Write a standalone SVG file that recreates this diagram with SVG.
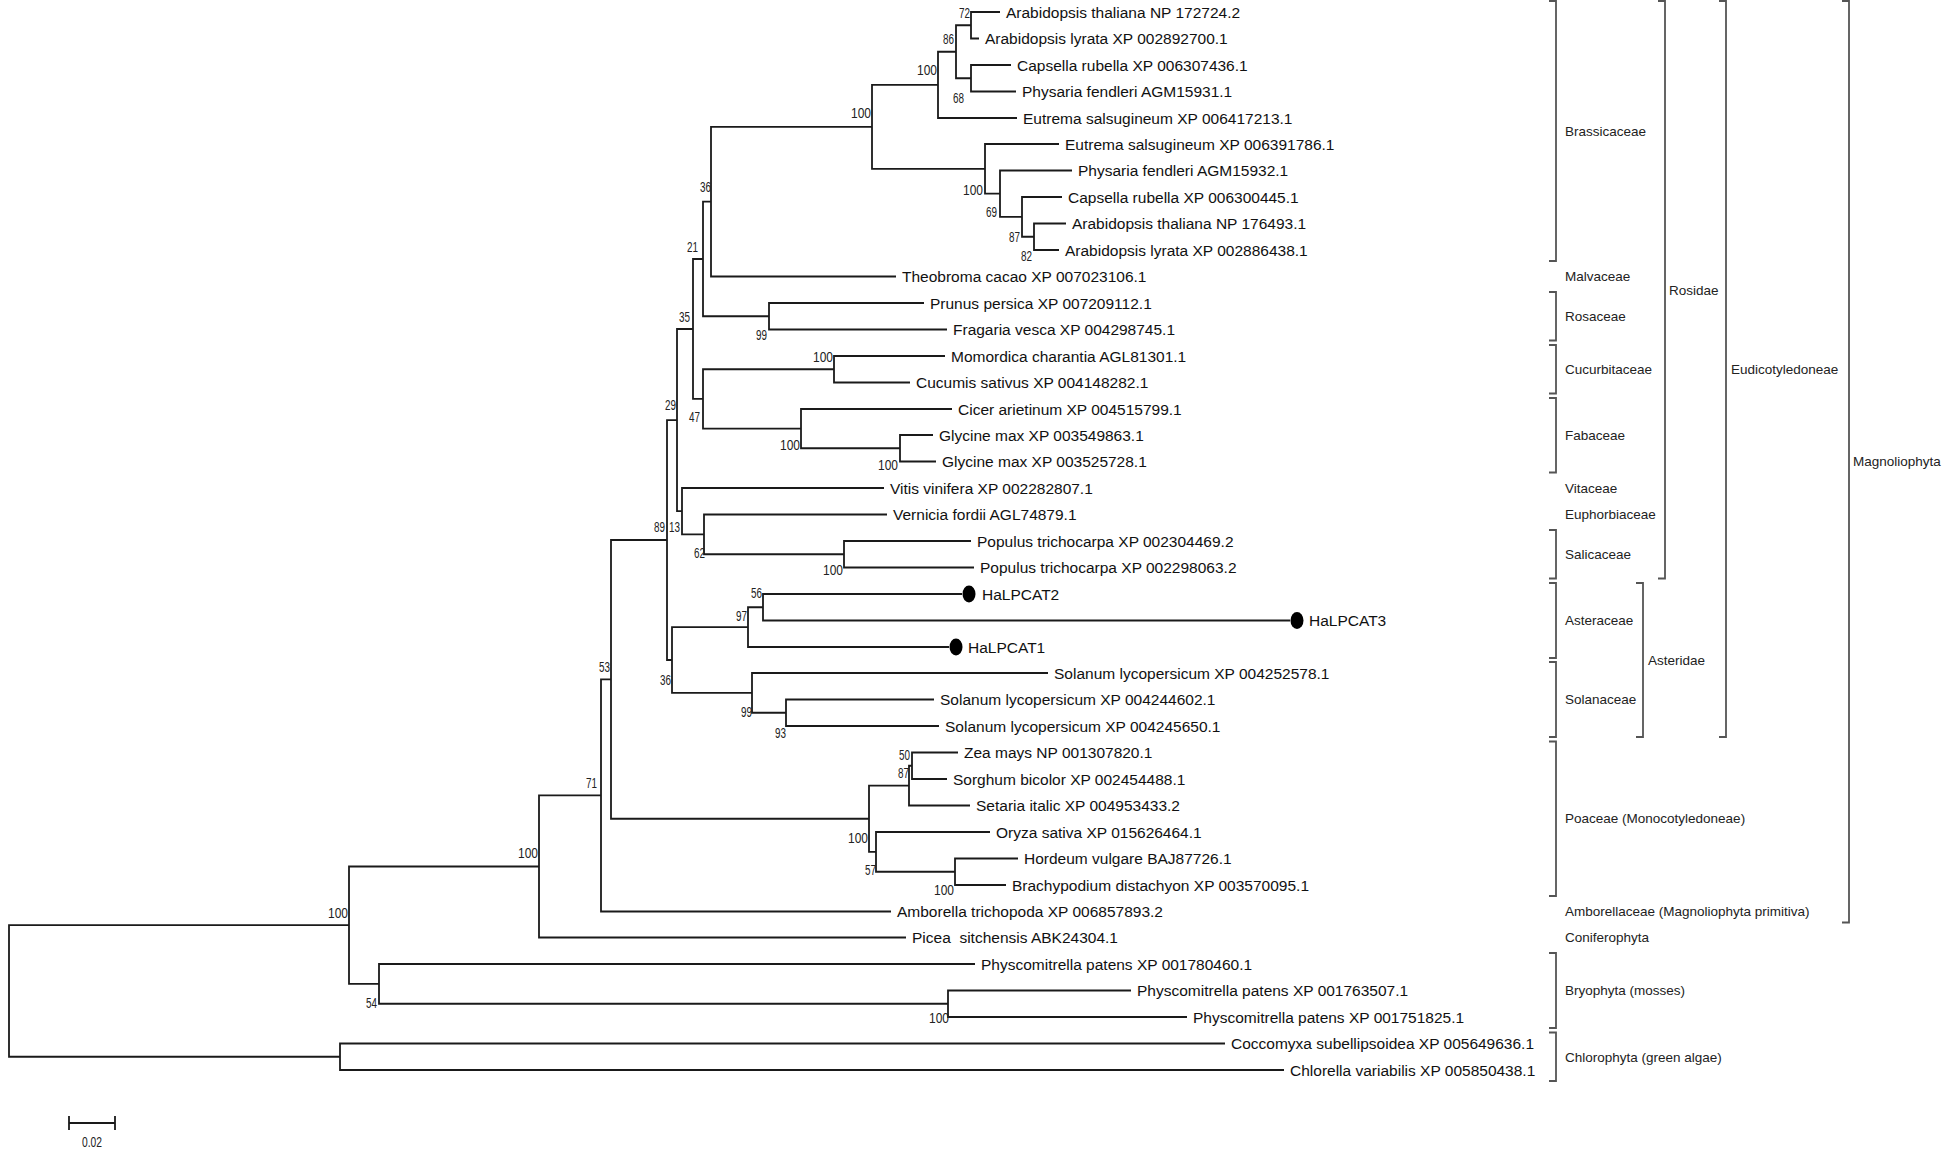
<svg xmlns="http://www.w3.org/2000/svg" width="1951" height="1154" viewBox="0 0 1951 1154">
<style>
.sp{font-family:"Liberation Sans",Arial,sans-serif;font-size:15.5px;fill:#111}
.bs{font-family:"Liberation Sans",Arial,sans-serif;font-size:14px;fill:#222;text-anchor:end}
.cl{font-family:"Liberation Sans",Arial,sans-serif;font-size:13.5px;fill:#222}
.br{fill:none;stroke:#555;stroke-width:1.8}
.ed{fill:none;stroke:#1a1a1a;stroke-width:1.8}
.dot{fill:#000}
</style>
<rect width="1951" height="1154" fill="#fff"/>
<g id="connectors">
<path class="ed" d="M1000 12 H971 V38.5 H979"/>
<path class="ed" d="M1011 65 H971 V91.5 H1016"/>
<path class="ed" d="M971 25.25 H956 V78.25 H971"/>
<path class="ed" d="M956 51.75 H938 V118 H1017"/>
<path class="ed" d="M1066 223.5 H1034 V250 H1059"/>
<path class="ed" d="M1062 197 H1022 V236.75 H1034"/>
<path class="ed" d="M1072 170.5 H1000 V216.9 H1022"/>
<path class="ed" d="M1059 144 H985 V193.7 H1000"/>
<path class="ed" d="M938 84.9 H872 V168.85 H985"/>
<path class="ed" d="M872 126.9 H711 V276.5 H896"/>
<path class="ed" d="M924 303 H769 V329.5 H947"/>
<path class="ed" d="M711 201.7 H703 V316.25 H769"/>
<path class="ed" d="M945 356 H834 V382.5 H910"/>
<path class="ed" d="M933 435 H900 V461.5 H936"/>
<path class="ed" d="M952 409 H801 V448.25 H900"/>
<path class="ed" d="M834 369.25 H703 V428.6 H801"/>
<path class="ed" d="M703 259 H693 V398.9 H703"/>
<path class="ed" d="M971 541 H844 V567.5 H974"/>
<path class="ed" d="M887 514.5 H704 V554.25 H844"/>
<path class="ed" d="M884 488 H682 V534.4 H704"/>
<path class="ed" d="M693 329 H677 V511.2 H682"/>
<path class="ed" d="M962 594 H763 V620.5 H1290"/>
<path class="ed" d="M763 607.25 H748 V647 H949"/>
<path class="ed" d="M934 699.5 H786 V726 H939"/>
<path class="ed" d="M1048 673 H752 V712.75 H786"/>
<path class="ed" d="M748 627.1 H672 V692.9 H752"/>
<path class="ed" d="M677 420.1 H667 V660 H672"/>
<path class="ed" d="M958 752.5 H912 V779 H947"/>
<path class="ed" d="M912 765.75 H909 V805.5 H970"/>
<path class="ed" d="M1018 858.5 H955 V885 H1006"/>
<path class="ed" d="M990 832 H876 V871.75 H955"/>
<path class="ed" d="M909 785.6 H869 V851.9 H876"/>
<path class="ed" d="M667 540 H611 V818.75 H869"/>
<path class="ed" d="M611 679.4 H601 V911.5 H891"/>
<path class="ed" d="M601 795.45 H539 V937.5 H906"/>
<path class="ed" d="M1131 990.5 H948 V1017 H1187"/>
<path class="ed" d="M975 964 H379 V1003.75 H948"/>
<path class="ed" d="M539 866.5 H349 V983.9 H379"/>
<path class="ed" d="M1225 1043.5 H340 V1070 H1284"/>
<path class="ed" d="M349 925.2 H9 V1056.75 H340"/>
</g>
<g id="bootstrap">
<text class="bs" x="970" y="18" textLength="11" lengthAdjust="spacingAndGlyphs">72</text>
<text class="bs" x="954" y="44" textLength="11" lengthAdjust="spacingAndGlyphs">86</text>
<text class="bs" x="937" y="75" textLength="20" lengthAdjust="spacingAndGlyphs">100</text>
<text class="bs" x="964" y="103" textLength="11" lengthAdjust="spacingAndGlyphs">68</text>
<text class="bs" x="871" y="118" textLength="20" lengthAdjust="spacingAndGlyphs">100</text>
<text class="bs" x="983" y="195" textLength="20" lengthAdjust="spacingAndGlyphs">100</text>
<text class="bs" x="997" y="217" textLength="11" lengthAdjust="spacingAndGlyphs">69</text>
<text class="bs" x="1020" y="242" textLength="11" lengthAdjust="spacingAndGlyphs">87</text>
<text class="bs" x="1032" y="261" textLength="11" lengthAdjust="spacingAndGlyphs">82</text>
<text class="bs" x="711" y="192" textLength="11" lengthAdjust="spacingAndGlyphs">36</text>
<text class="bs" x="698" y="252" textLength="11" lengthAdjust="spacingAndGlyphs">21</text>
<text class="bs" x="690" y="322" textLength="11" lengthAdjust="spacingAndGlyphs">35</text>
<text class="bs" x="767" y="340" textLength="11" lengthAdjust="spacingAndGlyphs">99</text>
<text class="bs" x="833" y="362" textLength="20" lengthAdjust="spacingAndGlyphs">100</text>
<text class="bs" x="676" y="410" textLength="11" lengthAdjust="spacingAndGlyphs">29</text>
<text class="bs" x="700" y="422" textLength="11" lengthAdjust="spacingAndGlyphs">47</text>
<text class="bs" x="800" y="450" textLength="20" lengthAdjust="spacingAndGlyphs">100</text>
<text class="bs" x="898" y="470" textLength="20" lengthAdjust="spacingAndGlyphs">100</text>
<text class="bs" x="665" y="532" textLength="11" lengthAdjust="spacingAndGlyphs">89</text>
<text class="bs" x="680" y="532" textLength="11" lengthAdjust="spacingAndGlyphs">13</text>
<text class="bs" x="705" y="558" textLength="11" lengthAdjust="spacingAndGlyphs">62</text>
<text class="bs" x="843" y="575" textLength="20" lengthAdjust="spacingAndGlyphs">100</text>
<text class="bs" x="762" y="598" textLength="11" lengthAdjust="spacingAndGlyphs">56</text>
<text class="bs" x="747" y="621" textLength="11" lengthAdjust="spacingAndGlyphs">97</text>
<text class="bs" x="671" y="685" textLength="11" lengthAdjust="spacingAndGlyphs">36</text>
<text class="bs" x="752" y="717" textLength="11" lengthAdjust="spacingAndGlyphs">99</text>
<text class="bs" x="786" y="738" textLength="11" lengthAdjust="spacingAndGlyphs">93</text>
<text class="bs" x="910" y="760" textLength="11" lengthAdjust="spacingAndGlyphs">50</text>
<text class="bs" x="909" y="778" textLength="11" lengthAdjust="spacingAndGlyphs">87</text>
<text class="bs" x="868" y="843" textLength="20" lengthAdjust="spacingAndGlyphs">100</text>
<text class="bs" x="876" y="875" textLength="11" lengthAdjust="spacingAndGlyphs">57</text>
<text class="bs" x="954" y="895" textLength="20" lengthAdjust="spacingAndGlyphs">100</text>
<text class="bs" x="610" y="672" textLength="11" lengthAdjust="spacingAndGlyphs">53</text>
<text class="bs" x="597" y="788" textLength="11" lengthAdjust="spacingAndGlyphs">71</text>
<text class="bs" x="538" y="858" textLength="20" lengthAdjust="spacingAndGlyphs">100</text>
<text class="bs" x="348" y="918" textLength="20" lengthAdjust="spacingAndGlyphs">100</text>
<text class="bs" x="377" y="1008" textLength="11" lengthAdjust="spacingAndGlyphs">54</text>
<text class="bs" x="949" y="1023" textLength="20" lengthAdjust="spacingAndGlyphs">100</text>
</g>
<g id="leaf-01"><text class="sp" x="1006" y="17.5">Arabidopsis thaliana NP 172724.2</text></g>
<g id="leaf-02"><text class="sp" x="985" y="44">Arabidopsis lyrata XP 002892700.1</text></g>
<g id="leaf-03"><text class="sp" x="1017" y="70.5">Capsella rubella XP 006307436.1</text></g>
<g id="leaf-04"><text class="sp" x="1022" y="97">Physaria fendleri AGM15931.1</text></g>
<g id="leaf-05"><text class="sp" x="1023" y="123.5">Eutrema salsugineum XP 006417213.1</text></g>
<g id="leaf-06"><text class="sp" x="1065" y="149.5">Eutrema salsugineum XP 006391786.1</text></g>
<g id="leaf-07"><text class="sp" x="1078" y="176">Physaria fendleri AGM15932.1</text></g>
<g id="leaf-08"><text class="sp" x="1068" y="202.5">Capsella rubella XP 006300445.1</text></g>
<g id="leaf-09"><text class="sp" x="1072" y="229">Arabidopsis thaliana NP 176493.1</text></g>
<g id="leaf-10"><text class="sp" x="1065" y="255.5">Arabidopsis lyrata XP 002886438.1</text></g>
<g id="leaf-11"><text class="sp" x="902" y="282">Theobroma cacao XP 007023106.1</text></g>
<g id="leaf-12"><text class="sp" x="930" y="308.5">Prunus persica XP 007209112.1</text></g>
<g id="leaf-13"><text class="sp" x="953" y="335">Fragaria vesca XP 004298745.1</text></g>
<g id="leaf-14"><text class="sp" x="951" y="361.5">Momordica charantia AGL81301.1</text></g>
<g id="leaf-15"><text class="sp" x="916" y="388">Cucumis sativus XP 004148282.1</text></g>
<g id="leaf-16"><text class="sp" x="958" y="414.5">Cicer arietinum XP 004515799.1</text></g>
<g id="leaf-17"><text class="sp" x="939" y="440.5">Glycine max XP 003549863.1</text></g>
<g id="leaf-18"><text class="sp" x="942" y="467">Glycine max XP 003525728.1</text></g>
<g id="leaf-19"><text class="sp" x="890" y="493.5">Vitis vinifera XP 002282807.1</text></g>
<g id="leaf-20"><text class="sp" x="893" y="520">Vernicia fordii AGL74879.1</text></g>
<g id="leaf-21"><text class="sp" x="977" y="546.5">Populus trichocarpa XP 002304469.2</text></g>
<g id="leaf-22"><text class="sp" x="980" y="573">Populus trichocarpa XP 002298063.2</text></g>
<g id="leaf-23"><ellipse class="dot" cx="969" cy="594" rx="6.5" ry="8.5"/><text class="sp" x="982" y="599.5">HaLPCAT2</text></g>
<g id="leaf-24"><ellipse class="dot" cx="1297" cy="620.5" rx="6.5" ry="8.5"/><text class="sp" x="1309" y="626">HaLPCAT3</text></g>
<g id="leaf-25"><ellipse class="dot" cx="956" cy="647" rx="6.5" ry="8.5"/><text class="sp" x="968" y="652.5">HaLPCAT1</text></g>
<g id="leaf-26"><text class="sp" x="1054" y="678.5">Solanum lycopersicum XP 004252578.1</text></g>
<g id="leaf-27"><text class="sp" x="940" y="705">Solanum lycopersicum XP 004244602.1</text></g>
<g id="leaf-28"><text class="sp" x="945" y="731.5">Solanum lycopersicum XP 004245650.1</text></g>
<g id="leaf-29"><text class="sp" x="964" y="758">Zea mays NP 001307820.1</text></g>
<g id="leaf-30"><text class="sp" x="953" y="784.5">Sorghum bicolor XP 002454488.1</text></g>
<g id="leaf-31"><text class="sp" x="976" y="811">Setaria italic XP 004953433.2</text></g>
<g id="leaf-32"><text class="sp" x="996" y="837.5">Oryza sativa XP 015626464.1</text></g>
<g id="leaf-33"><text class="sp" x="1024" y="864">Hordeum vulgare BAJ87726.1</text></g>
<g id="leaf-34"><text class="sp" x="1012" y="890.5">Brachypodium distachyon XP 003570095.1</text></g>
<g id="leaf-35"><text class="sp" x="897" y="917">Amborella trichopoda XP 006857893.2</text></g>
<g id="leaf-36"><text class="sp" x="912" y="943" xml:space="preserve">Picea  sitchensis ABK24304.1</text></g>
<g id="leaf-37"><text class="sp" x="981" y="969.5">Physcomitrella patens XP 001780460.1</text></g>
<g id="leaf-38"><text class="sp" x="1137" y="996">Physcomitrella patens XP 001763507.1</text></g>
<g id="leaf-39"><text class="sp" x="1193" y="1022.5">Physcomitrella patens XP 001751825.1</text></g>
<g id="leaf-40"><text class="sp" x="1231" y="1049">Coccomyxa subellipsoidea XP 005649636.1</text></g>
<g id="leaf-41"><text class="sp" x="1290" y="1075.5">Chlorella variabilis XP 005850438.1</text></g>
<g id="clade-brassicaceae"><path class="br" d="M1549 1 H1556 V261 H1549"/><text class="cl" x="1565" y="135.5">Brassicaceae</text></g>
<g id="clade-malvaceae"><text class="cl" x="1565" y="281">Malvaceae</text></g>
<g id="clade-rosaceae"><path class="br" d="M1549 292 H1556 V340.5 H1549"/><text class="cl" x="1565" y="320.5">Rosaceae</text></g>
<g id="clade-cucurbitaceae"><path class="br" d="M1549 345 H1556 V393.5 H1549"/><text class="cl" x="1565" y="373.5">Cucurbitaceae</text></g>
<g id="clade-fabaceae"><path class="br" d="M1549 398 H1556 V472.5 H1549"/><text class="cl" x="1565" y="439.5">Fabaceae</text></g>
<g id="clade-vitaceae"><text class="cl" x="1565" y="492.5">Vitaceae</text></g>
<g id="clade-euphorbiaceae"><text class="cl" x="1565" y="519">Euphorbiaceae</text></g>
<g id="clade-salicaceae"><path class="br" d="M1549 530 H1556 V578.5 H1549"/><text class="cl" x="1565" y="558.5">Salicaceae</text></g>
<g id="clade-asteraceae"><path class="br" d="M1549 583 H1556 V658 H1549"/><text class="cl" x="1565" y="625">Asteraceae</text></g>
<g id="clade-solanaceae"><path class="br" d="M1549 662 H1556 V737 H1549"/><text class="cl" x="1565" y="704">Solanaceae</text></g>
<g id="clade-poaceae"><path class="br" d="M1549 741.5 H1556 V896 H1549"/><text class="cl" x="1565" y="823">Poaceae (Monocotyledoneae)</text></g>
<g id="clade-amborellaceae"><text class="cl" x="1565" y="916">Amborellaceae (Magnoliophyta primitiva)</text></g>
<g id="clade-coniferophyta"><text class="cl" x="1565" y="942">Coniferophyta</text></g>
<g id="clade-bryophyta"><path class="br" d="M1549 953 H1556 V1028 H1549"/><text class="cl" x="1565" y="995">Bryophyta (mosses)</text></g>
<g id="clade-chlorophyta"><path class="br" d="M1549 1032.5 H1556 V1081 H1549"/><text class="cl" x="1565" y="1061.5">Chlorophyta (green algae)</text></g>
<g id="clade-rosidae"><path class="br" d="M1658 1 H1665 V578.5 H1658"/><text class="cl" x="1669" y="294.5">Rosidae</text></g>
<g id="clade-asteridae"><path class="br" d="M1636 583 H1643 V737 H1636"/><text class="cl" x="1648" y="664.5">Asteridae</text></g>
<g id="clade-eudicotyledoneae"><path class="br" d="M1719 1 H1726 V737 H1719"/><text class="cl" x="1731" y="373.5">Eudicotyledoneae</text></g>
<g id="clade-magnoliophyta"><path class="br" d="M1842 1 H1849 V922.5 H1842"/><text class="cl" x="1853" y="466">Magnoliophyta</text></g>
<g id="scale-bar"><path class="ed" d="M69 1116 V1130 M69 1123 H115 M115 1116 V1130"/><text class="bs" x="92" y="1147" style="text-anchor:middle" textLength="20" lengthAdjust="spacingAndGlyphs">0.02</text></g>
</svg>
